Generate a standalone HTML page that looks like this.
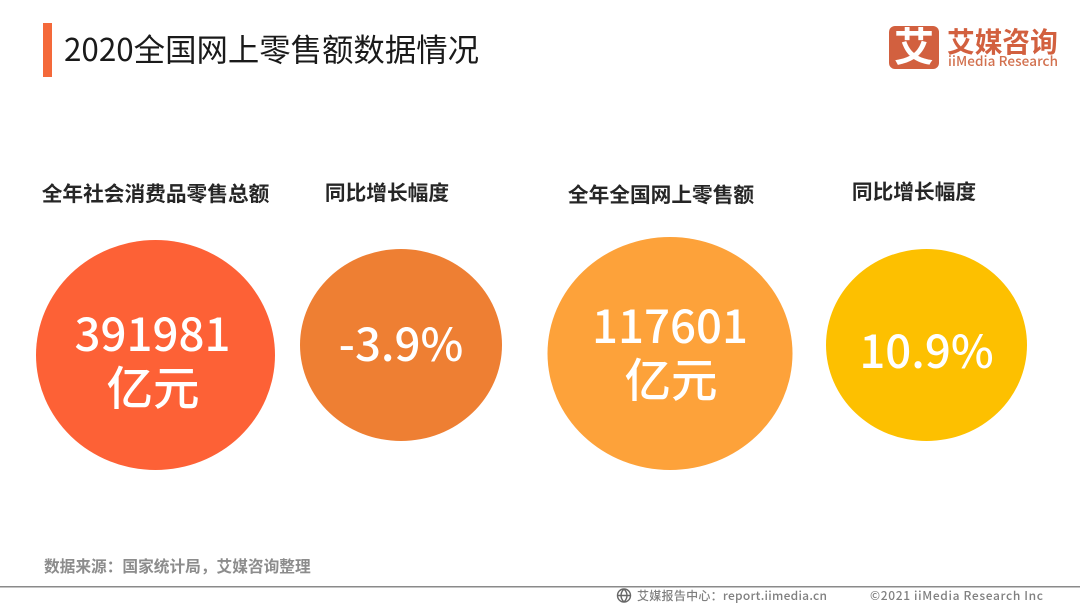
<!DOCTYPE html>
<html lang="zh">
<head>
<meta charset="utf-8">
<title>2020全国网上零售额数据情况</title>
<style>
html,body{margin:0;padding:0;background:#fff}
#page{position:relative;width:1080px;height:608px;overflow:hidden;background:#fff}
svg{position:absolute;left:0;top:0}
text{font-family:"Noto Sans CJK SC","Liberation Sans",sans-serif}
.label{font-size:20.700px;font-weight:700;fill:#262626;text-anchor:middle}
.val{font-size:45.600px;font-weight:500;fill:#fff;text-anchor:middle}
.unit{font-size:46.500px;font-weight:500;fill:#fff;text-anchor:middle}
</style>
</head>
<body>
<div id="page">
<svg width="1080" height="608" viewBox="0 0 1080 608">
  <rect x="43" y="23" width="9" height="54" fill="#f4693a"/>
  <text x="64" y="61" font-size="31.400" fill="#1a1a1a">2020全国网上零售额数据情况</text>

  <g>
    <rect x="889" y="26" width="50" height="43" rx="6" fill="#d2603f"/>
    <text x="914" y="61" font-size="40" font-weight="700" fill="#fff" text-anchor="middle">艾</text>
    <text x="947" y="52" font-size="27.700" font-weight="700" fill="#d2603f">艾媒咨询</text>
    <text x="948" y="66" font-size="13.500" font-weight="500" fill="#d2714f" textLength="110">iiMedia Research</text>
  </g>

  <text class="label" x="155.500" y="201">全年社会消费品零售总额</text>
  <text class="label" x="387" y="200">同比增长幅度</text>
  <text class="label" x="661" y="202">全年全国网上零售额</text>
  <text class="label" x="914" y="199">同比增长幅度</text>

  <ellipse cx="155.500" cy="355" rx="119.500" ry="115" fill="#fd6136"/>
  <ellipse cx="401" cy="345" rx="101" ry="96" fill="#ee7f33"/>
  <ellipse cx="670" cy="353.500" rx="122.500" ry="116.500" fill="#fda23a"/>
  <ellipse cx="926.500" cy="345" rx="100.500" ry="96" fill="#fdc000"/>

  <text class="val" x="152.500" y="351">391981</text>
  <text class="unit" x="153" y="405">亿元</text>
  <text class="val" x="401" y="361">-3.9%</text>
  <text class="val" x="670" y="343">117601</text>
  <text class="unit" x="671" y="397">亿元</text>
  <text class="val" x="926.500" y="368">10.9%</text>

  <text x="44" y="572" font-size="15.700" font-weight="700" fill="#8c8c8c">数据来源：国家统计局，艾媒咨询整理</text>

  <rect x="0" y="586" width="1080" height="1.500" fill="#8a8a8a"/>
  <g fill="none" stroke="#666" stroke-width="1.400">
    <circle cx="624" cy="595.500" r="6.500"/>
    <path d="M617.500 595.500h13M624 589c-4 4-4 9 0 13M624 589c4 4 4 9 0 13"/>
  </g>
  <text x="637" y="600" font-size="12" font-weight="500" fill="#808080" textLength="190">艾媒报告中心：report.iimedia.cn</text>
  <text x="870" y="600" font-size="12" font-weight="500" fill="#808080" textLength="173">©2021  iiMedia Research  Inc</text>
</svg>
</div>
</body>
</html>
